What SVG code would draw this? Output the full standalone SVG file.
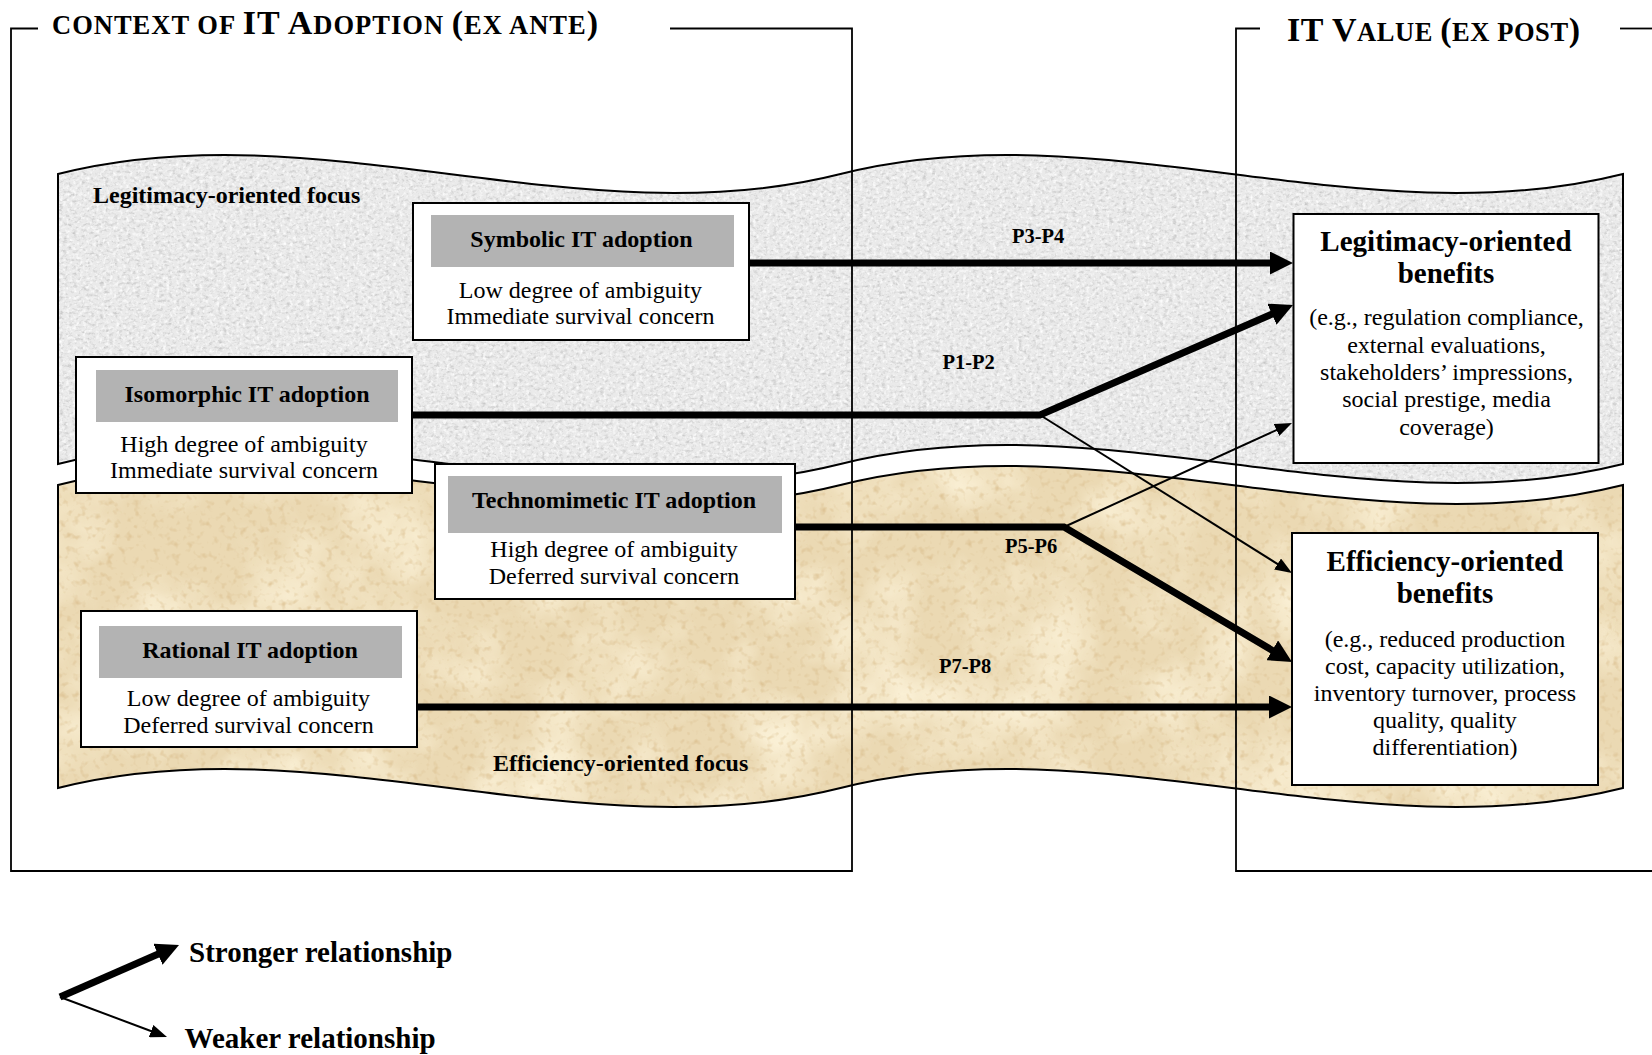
<svg xmlns="http://www.w3.org/2000/svg" width="1652" height="1055" viewBox="0 0 1652 1055">
<defs>
<style>
.t{font-family:"Liberation Serif","Times New Roman",serif;fill:#000}
.ttl{font-size:24px;font-weight:bold;text-anchor:middle}
.body{font-size:24px;text-anchor:middle}
.btitle{font-size:29px;font-weight:bold;text-anchor:middle}
.plab{font-size:20.5px;font-weight:bold}
.focus{font-size:24px;font-weight:bold}
.leg{font-size:29px;font-weight:bold}
.box{fill:#fff;stroke:#000;stroke-width:2}
.hdr{fill:#b3b3b3}
.frame{fill:none;stroke:#000;stroke-width:1.8}
.edge{fill:none;stroke:#000;stroke-width:2}
.thick{fill:none;stroke:#000;stroke-width:7;stroke-linejoin:miter}
.thin{fill:none;stroke:#000;stroke-width:2}
</style>
<marker id="ah" markerUnits="userSpaceOnUse" markerWidth="23" markerHeight="23" viewBox="0 0 23 23" refX="11" refY="11.5" orient="auto"><path d="M0,0 L23,11.5 L0,23 z" fill="#000"/></marker>
<marker id="as" markerUnits="userSpaceOnUse" markerWidth="17" markerHeight="13" viewBox="0 0 17 13" refX="9" refY="6.5" orient="auto"><path d="M0,0 L17,6.5 L0,13 z" fill="#000"/></marker>
<filter id="fGray" x="0" y="0" width="1" height="1" color-interpolation-filters="sRGB">
<feTurbulence type="fractalNoise" baseFrequency="0.22 0.34" numOctaves="3" seed="4" result="t"/>
<feColorMatrix in="t" type="matrix" values="0 0 0 0 0.78  0 0 0 0 0.78  0 0 0 0 0.78  2.4 0 0 0 -1.15" result="d"/>
<feComposite in="d" in2="SourceGraphic" operator="in" result="d2"/>
<feTurbulence type="fractalNoise" baseFrequency="0.3" numOctaves="2" seed="9" result="w"/>
<feColorMatrix in="w" type="matrix" values="0 0 0 0 1  0 0 0 0 1  0 0 0 0 1  2.4 0 0 0 -1.15" result="w1"/>
<feComposite in="w1" in2="SourceGraphic" operator="in" result="w2"/>
<feMerge><feMergeNode in="SourceGraphic"/><feMergeNode in="d2"/><feMergeNode in="w2"/></feMerge>
</filter>
<filter id="fTan" x="0" y="0" width="1" height="1" color-interpolation-filters="sRGB">
<feTurbulence type="fractalNoise" baseFrequency="0.012" numOctaves="4" seed="11" result="t"/>
<feColorMatrix in="t" type="matrix" values="0 0 0 0 1  0 0 0 0 0.97  0 0 0 0 0.88  1.6 0 0 0 -0.62" result="light"/>
<feComposite in="light" in2="SourceGraphic" operator="in" result="l2"/>
<feTurbulence type="fractalNoise" baseFrequency="0.15" numOctaves="2" seed="7" result="t2"/>
<feColorMatrix in="t2" type="matrix" values="0 0 0 0 0.84  0 0 0 0 0.72  0 0 0 0 0.52  1.8 0 0 0 -0.98" result="dark"/>
<feComposite in="dark" in2="SourceGraphic" operator="in" result="d2"/>
<feMerge><feMergeNode in="SourceGraphic"/><feMergeNode in="l2"/><feMergeNode in="d2"/></feMerge>
</filter>
<path id="upperBand" d="M58,174 C318.8,108 579.7,240 840.5,174 C1101.3,108 1362.2,240 1623,174 L1623,464 C1362.2,530 1101.3,398 840.5,464 C579.7,530 318.8,398 58,464 Z"/>
<path id="lowerBand" d="M58,485 C318.8,419 579.7,551 840.5,485 C1101.3,419 1362.2,551 1623,485 L1623,788 C1362.2,854 1101.3,722 840.5,788 C579.7,854 318.8,722 58,788 Z"/>
</defs>
<rect width="1652" height="1055" fill="#fff"/>

<g id="bands">
<use href="#upperBand" fill="#eaeaea" filter="url(#fGray)"/>
<use href="#upperBand" class="edge"/>
<use href="#lowerBand" fill="#ebd9b3" filter="url(#fTan)"/>
<use href="#lowerBand" class="edge"/>
</g>

<g id="frames">
<path class="frame" d="M38,28.5 H11 V871 H852 V28.5 H670"/>
<path class="frame" d="M1260,28.5 H1236 V871 H1652"/>
<path class="frame" d="M1620,28.5 H1652"/>
<text class="t" font-weight="bold" x="52" y="34" textLength="546" lengthAdjust="spacing"><tspan font-size="26.5">CONTEXT OF </tspan><tspan font-size="34">IT A</tspan><tspan font-size="26.5">DOPTION </tspan><tspan font-size="34">(</tspan><tspan font-size="26.5">EX ANTE</tspan><tspan font-size="34">)</tspan></text>
<text class="t" font-weight="bold" x="1287" y="40.5" textLength="293" lengthAdjust="spacing"><tspan font-size="34">IT V</tspan><tspan font-size="26.5">ALUE </tspan><tspan font-size="34">(</tspan><tspan font-size="26.5">EX POST</tspan><tspan font-size="34">)</tspan></text>
</g>

<g id="band-labels">
<text class="t focus" x="93" y="202.5">Legitimacy-oriented focus</text>
<text class="t focus" x="493" y="771">Efficiency-oriented focus</text>
</g>

<g id="node-symbolic">
<rect class="box" x="413" y="203" width="336" height="137"/>
<rect class="hdr" x="431" y="215" width="303" height="52"/>
<text class="t ttl" x="581.5" y="247">Symbolic IT adoption</text>
<text class="t body" x="580.5" y="298">Low degree of ambiguity</text>
<text class="t body" x="580.5" y="324">Immediate survival concern</text>
</g>

<g id="node-isomorphic">
<rect class="box" x="76" y="357" width="336" height="136"/>
<rect class="hdr" x="96" y="370" width="302" height="52"/>
<text class="t ttl" x="247" y="402">Isomorphic IT adoption</text>
<text class="t body" x="244" y="452">High degree of ambiguity</text>
<text class="t body" x="244" y="478">Immediate survival concern</text>
</g>

<g id="node-technomimetic">
<rect class="box" x="435" y="464" width="360" height="135"/>
<rect class="hdr" x="448" y="476" width="334" height="57"/>
<text class="t ttl" x="614" y="508">Technomimetic IT adoption</text>
<text class="t body" x="614" y="557">High degree of ambiguity</text>
<text class="t body" x="614" y="584">Deferred survival concern</text>
</g>

<g id="node-rational">
<rect class="box" x="81" y="611" width="336" height="136"/>
<rect class="hdr" x="99" y="626" width="303" height="52"/>
<text class="t ttl" x="250" y="658">Rational IT adoption</text>
<text class="t body" x="248.5" y="706">Low degree of ambiguity</text>
<text class="t body" x="248.5" y="733">Deferred survival concern</text>
</g>

<g id="node-legitimacy-benefits">
<rect class="box" x="1293.5" y="214" width="305" height="249"/>
<text class="t btitle" x="1446" y="251">Legitimacy-oriented</text>
<text class="t btitle" x="1446" y="283">benefits</text>
<text class="t body" x="1446.5" y="325">(e.g., regulation compliance,</text>
<text class="t body" x="1446.5" y="352.5">external evaluations,</text>
<text class="t body" x="1446.5" y="380">stakeholders’ impressions,</text>
<text class="t body" x="1446.5" y="407">social prestige, media</text>
<text class="t body" x="1446.5" y="434.5">coverage)</text>
</g>

<g id="node-efficiency-benefits">
<rect class="box" x="1292" y="533" width="306" height="252"/>
<text class="t btitle" x="1445" y="571">Efficiency-oriented</text>
<text class="t btitle" x="1445" y="603">benefits</text>
<text class="t body" x="1445" y="647">(e.g., reduced production</text>
<text class="t body" x="1445" y="674">cost, capacity utilization,</text>
<text class="t body" x="1445" y="701">inventory turnover, process</text>
<text class="t body" x="1445" y="728">quality, quality</text>
<text class="t body" x="1445" y="755">differentiation)</text>
</g>

<g id="connectors">
<path class="thick" d="M749,263 H1281" marker-end="url(#ah)"/>
<path class="thick" d="M412,415 H1040 L1282,309.8" marker-end="url(#ah)"/>
<path class="thin" d="M1040,415 L1285.2,568.8" marker-end="url(#as)"/>
<path class="thick" d="M795,527 H1064 L1281.7,655.9" marker-end="url(#ah)"/>
<path class="thin" d="M1064,527 L1284.7,426.3" marker-end="url(#as)"/>
<path class="thick" d="M417,707 H1280" marker-end="url(#ah)"/>
<text class="t plab" x="1012" y="243">P3-P4</text>
<text class="t plab" x="942.5" y="369">P1-P2</text>
<text class="t plab" x="1005" y="553">P5-P6</text>
<text class="t plab" x="939" y="673">P7-P8</text>
</g>

<g id="legend">
<path class="thick" d="M60,997 L168,949.8" marker-end="url(#ah)"/>
<path class="thin" d="M60,997 L159.5,1034.2" marker-end="url(#as)"/>
<text class="t leg" x="189" y="962">Stronger relationship</text>
<text class="t leg" x="184.5" y="1048">Weaker relationship</text>
</g>
</svg>
